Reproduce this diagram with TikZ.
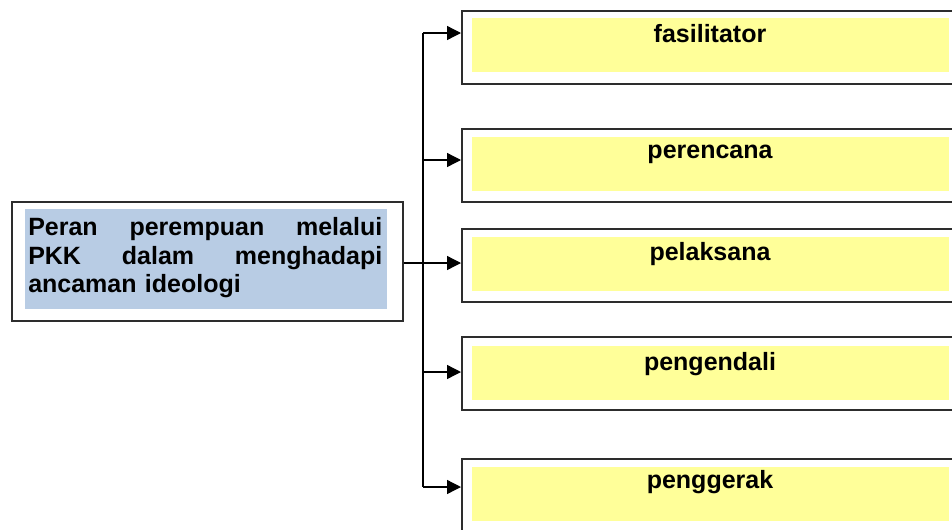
\documentclass[tikz,border=0pt]{standalone}
\usepackage{fontspec}
\setmainfont{Liberation Sans}
\usetikzlibrary{arrows.meta}
\definecolor{boxyellow}{RGB}{255,255,153}
\definecolor{boxblue}{RGB}{184,204,228}
\definecolor{edge}{RGB}{45,45,45}
\begin{document}
\begin{tikzpicture}[x=0.75pt,y=-0.75pt,
  outerbox/.style={draw=edge,line width=1.4pt,fill=white,rectangle,anchor=north west,inner sep=0pt,minimum width=381.75pt,minimum height=54.75pt},
  innerfill/.style={fill=boxyellow,rectangle,anchor=north west,inner sep=0pt,minimum width=357.75pt,minimum height=40.5pt},
  lab/.style={anchor=base,inner sep=0pt,font=\fontsize{18.75pt}{21.5pt}\selectfont\bfseries},
  conn/.style={draw=black,line width=1pt},
  arr/.style={conn,-{Triangle[length=10.5pt,width=10.5pt]}}
]
\clip (0,0) rectangle (952,529);
\fill[white] (0,0) rectangle (952,529);

% left box
\node[draw=edge,line width=1.4pt,rectangle,anchor=north west,inner sep=0pt,minimum width=293.25pt,minimum height=89.25pt] (L) at (11,201) {};
\node[fill=boxblue,rectangle,anchor=north west,inner sep=0pt,minimum width=271.5pt,minimum height=75pt] (Lf) at (25,209) {};
\node[anchor=north west,inner sep=0pt,text width=265.5pt,align=left,font=\fontsize{18.75pt}{21.5pt}\selectfont\bfseries] (Lt) at (28,217)
  {Peran\hfill perempuan\hfill melalui\\PKK\hfill dalam\hfill menghadapi\\ancaman ideologi};

% right boxes
\node[outerbox] (b1) at (461,10) {};
\node[innerfill] (y1) at (472,18) {};
\node[lab] (l1) at (710,42) {fasilitator};

\node[outerbox] (b2) at (461,128) {};
\node[innerfill] (y2) at (472,137) {};
\node[lab] (l2) at (710,158) {perencana};

\node[outerbox] (b3) at (461,228) {};
\node[innerfill] (y3) at (472,237) {};
\node[lab] (l3) at (710,260) {pelaksana};

\node[outerbox] (b4) at (461,336) {};
\node[innerfill] (y4) at (472,346) {};
\node[lab] (l4) at (710,370) {pengendali};

\node[outerbox] (b5) at (461,458) {};
\node[innerfill] (y5) at (472,467) {};
\node[lab] (l5) at (710,488) {penggerak};

% trunk
\coordinate (t1) at (423,33);
\coordinate (t2) at (423,160);
\coordinate (t3) at (423,263);
\coordinate (t4) at (423,372);
\coordinate (t5) at (423,487);
\draw[conn] (t1) -- (t5);
\draw[arr] (t1) -- (t1 -| b1.west);
\draw[arr] (t2) -- (t2 -| b2.west);
\draw[arr] (L.east |- t3) -- (t3 -| b3.west);
\draw[arr] (t4) -- (t4 -| b4.west);
\draw[arr] (t5) -- (t5 -| b5.west);
\end{tikzpicture}
\end{document}
